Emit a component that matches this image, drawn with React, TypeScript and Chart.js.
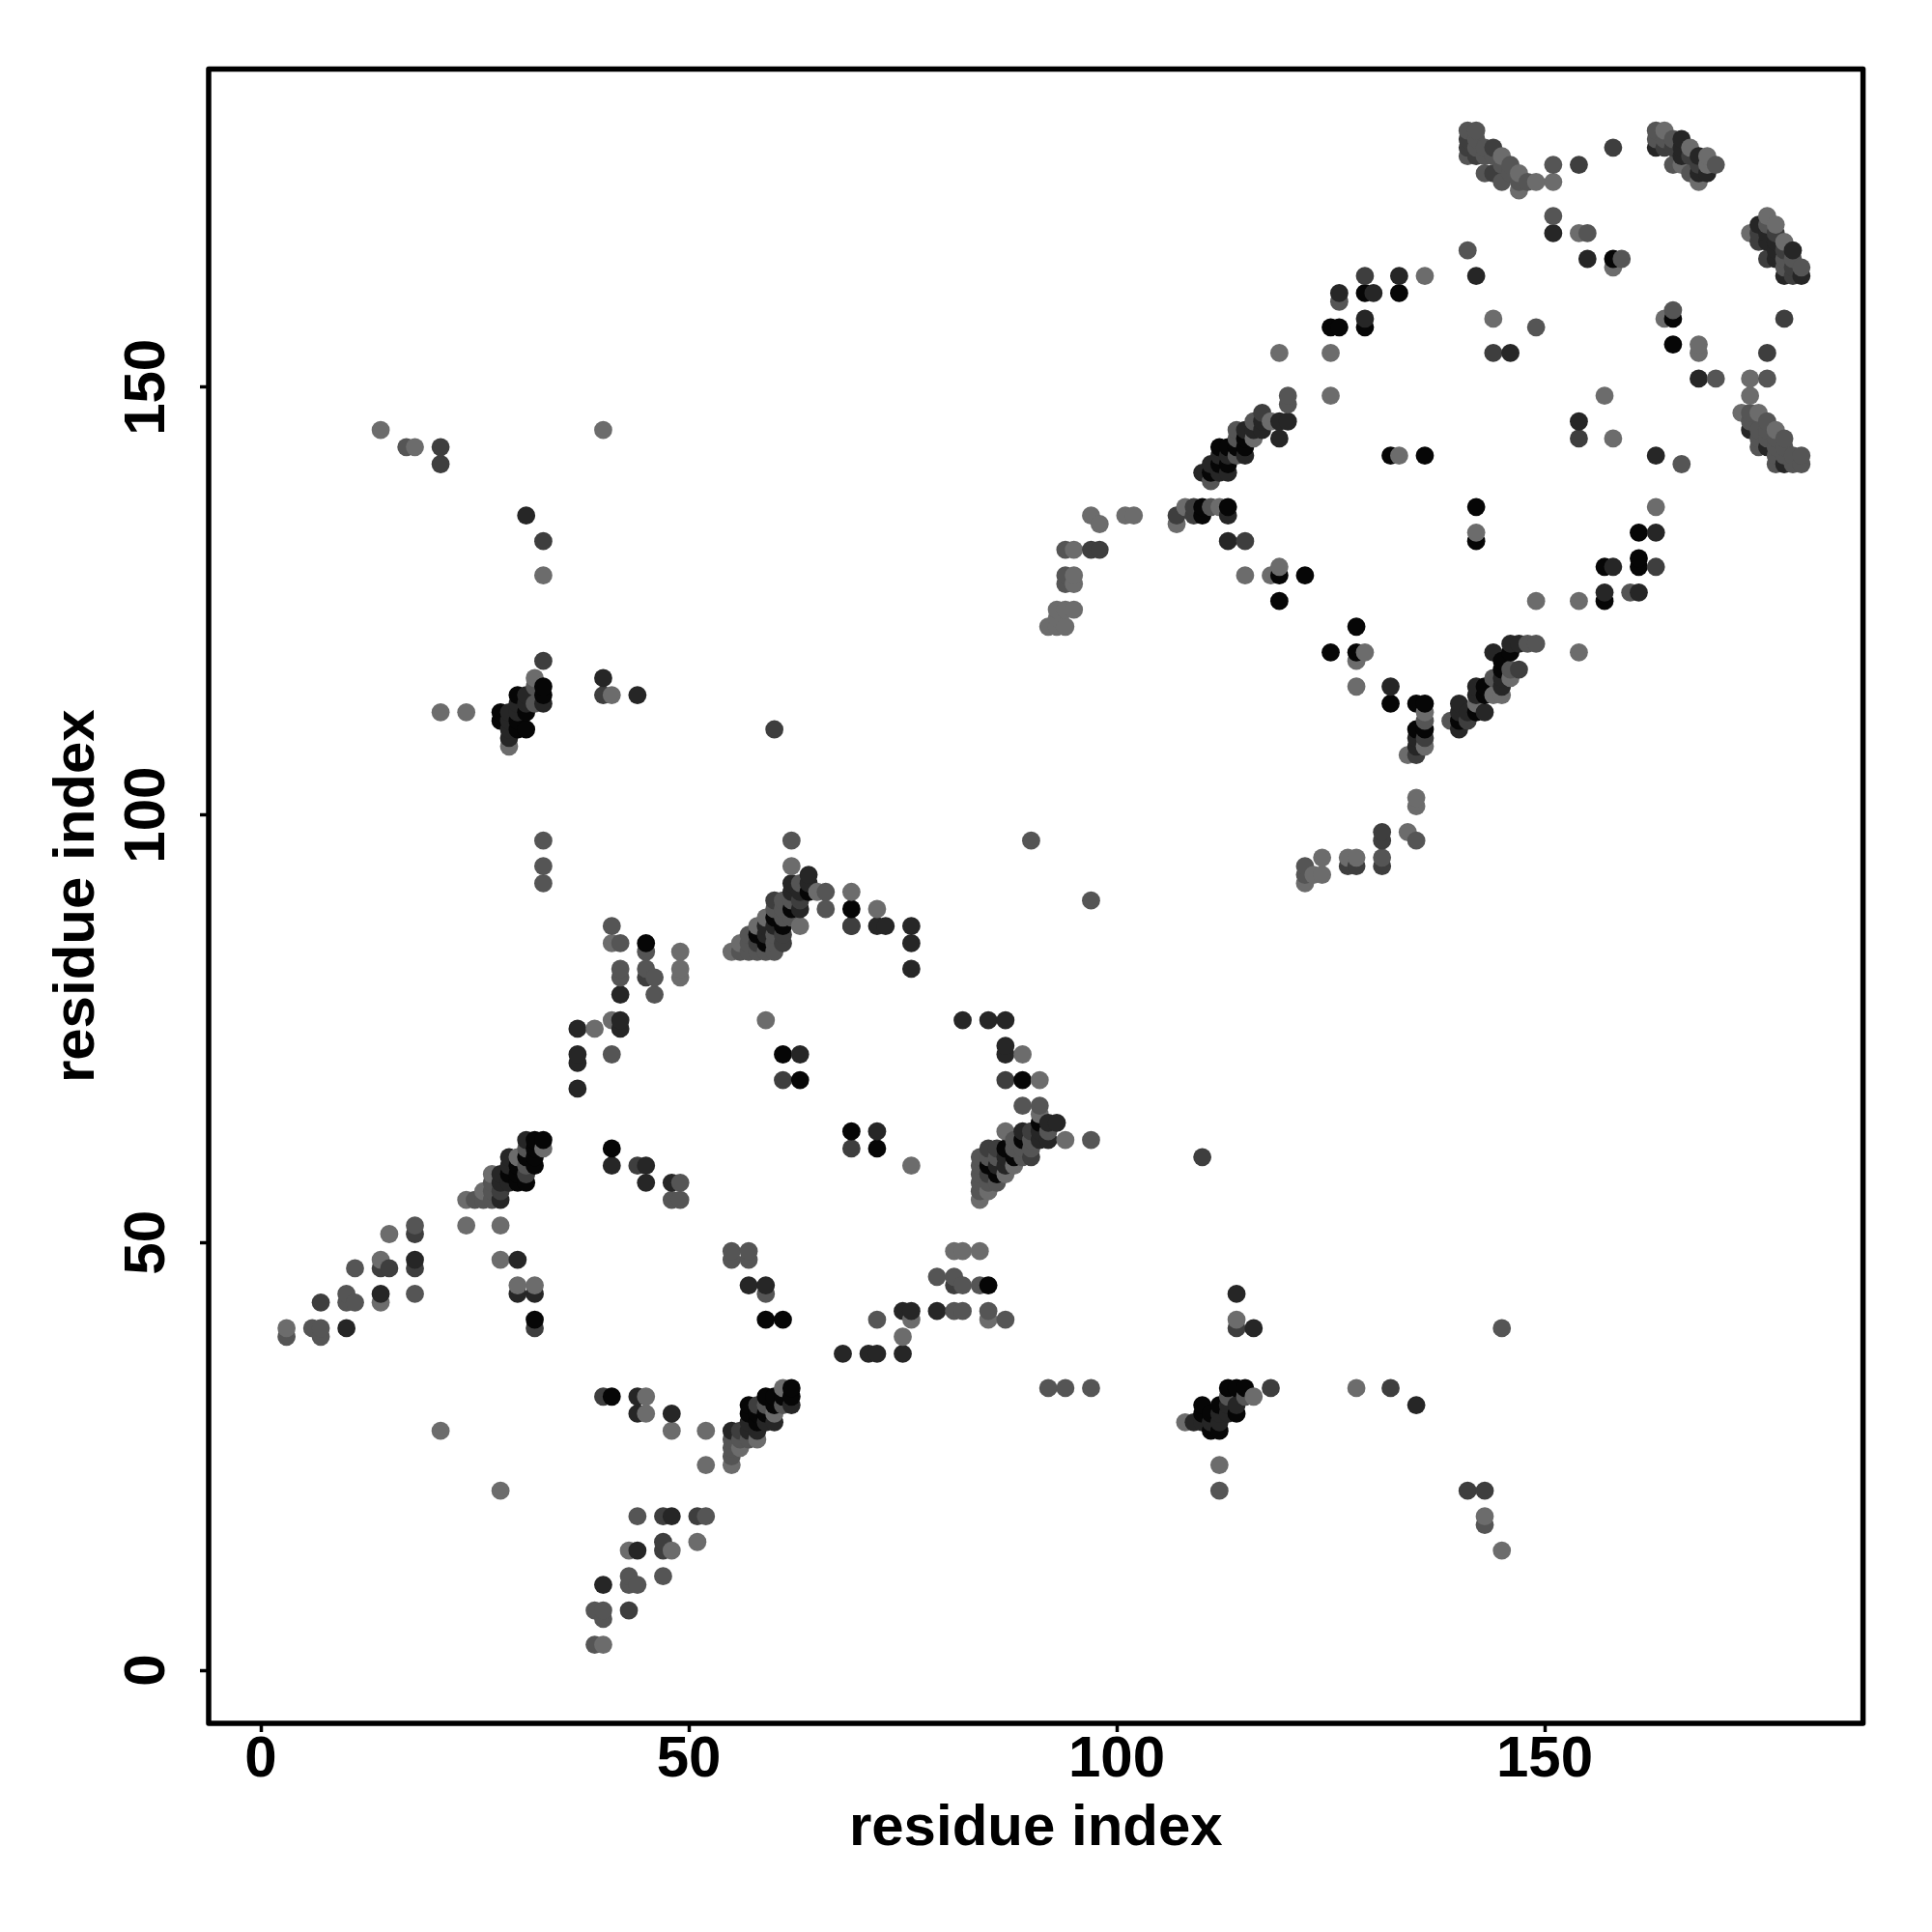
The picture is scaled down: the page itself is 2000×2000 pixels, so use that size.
import React, { useEffect, useRef } from "react";
import { Chart, registerables } from "chart.js";

Chart.register(...registerables);

const tickValues = [0, 50, 100, 150];
const axisTitle = "residue index";
const shades = ["#060606", "#262626", "#3e3e3e", "#555555", "#6c6c6c"];

const above0 = [[32,41],[30,57],[31,57],[29,58],[30,58],[30,59],[32,59],[31,60],[32,60],[32,61],[32,62],[33,62],[30,110],[31,110],[28,111],[30,111],[28,112],[31,112],[30,114],[33,114],[33,115],[45,85],[41,61],[59,85],[58,86],[61,87],[60,88],[62,89],[64,91],[69,89],[61,72],[63,69],[110,135],[110,136],[113,136],[119,128],[122,128],[119,125],[111,140],[112,141],[113,141],[112,143],[113,143],[115,143],[115,144],[114,143],[125,157],[126,157],[129,157],[129,161],[133,161],[158,165],[132,142],[136,142]];
const above1 = [[10,40],[14,44],[18,48],[30,48],[30,44],[32,44],[28,55],[28,57],[29,57],[28,58],[29,59],[29,60],[31,62],[31,135],[40,116],[44,114],[29,109],[29,110],[29,111],[29,112],[30,112],[30,113],[31,113],[33,113],[31,114],[37,68],[37,71],[37,72],[37,75],[42,75],[42,76],[42,79],[41,59],[45,57],[45,59],[48,57],[59,86],[59,87],[60,87],[63,89],[62,91],[63,91],[62,92],[64,92],[64,93],[72,87],[73,87],[76,82],[76,85],[76,87],[63,72],[113,135],[113,132],[110,140],[112,140],[113,140],[111,141],[112,142],[115,142],[113,142],[115,145],[116,145],[117,145],[117,146],[119,146],[120,146],[119,144],[129,158],[126,161],[130,161],[133,163],[142,163],[146,154],[151,168],[155,165],[163,178],[166,179],[166,178],[166,177],[168,177],[168,175],[169,175]];
const above2 = [[7,43],[14,47],[15,47],[18,47],[18,51],[32,40],[33,118],[33,132],[21,143],[21,141],[60,110],[40,114],[44,59],[45,81],[31,58],[28,56],[58,85],[61,85],[61,86],[60,90],[63,90],[69,87],[61,69],[97,131],[98,131],[107,135],[109,135],[109,136],[115,132],[117,147],[129,163],[144,154],[154,176],[158,178],[141,178],[142,177],[144,175],[141,179],[144,178],[164,178],[165,178],[167,177],[168,176]];
const above3 = [[3,39],[6,40],[7,39],[7,40],[10,43],[10,44],[11,43],[11,47],[18,44],[18,52],[25,55],[26,55],[27,55],[27,56],[27,57],[31,59],[31,61],[17,143],[33,92],[33,94],[33,97],[32,113],[32,115],[41,72],[42,81],[42,82],[42,85],[41,87],[45,82],[45,84],[46,79],[46,81],[48,55],[49,55],[49,57],[56,84],[57,84],[58,84],[59,84],[60,84],[57,85],[60,85],[57,86],[60,86],[61,88],[62,88],[60,89],[61,89],[61,90],[62,90],[63,92],[66,91],[62,97],[66,89],[90,97],[94,127],[94,128],[94,131],[111,136],[111,139],[114,142],[114,144],[114,145],[116,146],[120,148],[120,149],[126,160],[141,166],[149,157],[151,176],[151,170],[155,168],[159,165],[141,180],[142,180],[141,177],[142,179],[142,178],[143,178],[143,177],[143,175],[144,177],[146,176],[145,176],[145,174],[146,175],[147,174],[148,174],[163,180],[163,179],[164,179],[165,179],[165,176],[167,175],[170,176]];
const above4 = [[3,40],[14,43],[14,48],[15,51],[21,28],[24,52],[24,55],[28,48],[28,52],[30,45],[32,45],[26,56],[27,58],[30,60],[33,61],[14,145],[18,143],[33,128],[40,145],[21,112],[24,112],[41,114],[32,116],[29,108],[39,75],[41,76],[41,85],[49,81],[49,82],[49,84],[55,84],[56,85],[58,87],[59,88],[63,87],[65,91],[62,94],[69,91],[72,89],[59,76],[92,122],[93,122],[94,122],[93,123],[93,124],[94,124],[95,124],[95,127],[95,128],[95,131],[97,135],[98,134],[101,135],[102,135],[107,134],[108,136],[112,136],[115,128],[118,128],[119,129],[116,144],[118,146],[119,154],[125,154],[125,149],[133,142],[136,163],[144,158],[151,174],[149,174],[154,168],[158,164],[145,177],[147,175],[147,173],[164,180],[166,176],[167,178],[168,174],[169,177],[169,176]];

const below0 = [[41,32],[57,30],[57,31],[58,29],[58,30],[59,30],[59,32],[60,31],[60,32],[61,32],[62,32],[62,33],[110,30],[110,31],[111,28],[111,30],[112,28],[112,31],[114,30],[114,33],[115,33],[113,33],[85,45],[61,41],[59,41],[85,59],[86,58],[87,61],[88,60],[89,62],[91,64],[89,69],[72,61],[69,63],[135,110],[136,110],[136,113],[135,113],[128,119],[125,119],[128,122],[140,111],[142,112],[143,114],[143,115],[145,117],[145,118],[146,119],[157,125],[157,129],[161,129],[161,130],[161,133],[165,158],[165,155],[142,132],[142,136],[132,113]];
const below1 = [[40,10],[44,14],[48,18],[48,30],[44,30],[44,32],[55,28],[57,28],[57,29],[58,28],[59,29],[60,29],[62,31],[135,31],[116,40],[114,44],[109,29],[110,29],[111,29],[112,29],[112,30],[113,30],[113,31],[114,31],[68,37],[71,37],[72,37],[75,37],[75,42],[76,42],[79,42],[59,45],[57,45],[86,59],[87,59],[87,60],[89,63],[91,62],[91,63],[92,62],[92,64],[93,64],[87,72],[87,73],[82,76],[85,76],[87,76],[72,63],[140,110],[140,112],[140,113],[141,112],[142,114],[142,115],[143,112],[144,119],[145,115],[145,116],[146,120],[147,120],[135,109],[135,108],[157,126],[158,129],[161,126],[163,133],[163,142],[154,146],[168,151],[132,115],[175,169],[176,168],[176,167],[177,167],[179,166],[177,166],[177,165],[178,163],[180,163],[174,145],[176,143],[178,141]];
const below2 = [[43,7],[47,14],[47,15],[47,18],[51,18],[40,32],[118,33],[132,33],[143,21],[141,21],[110,60],[114,40],[81,45],[58,31],[56,28],[85,58],[85,61],[86,61],[90,60],[90,63],[87,69],[69,61],[69,87],[131,97],[131,98],[131,94],[127,94],[128,94],[135,107],[136,109],[147,117],[141,111],[163,129],[154,144],[176,154],[178,158],[175,168],[175,167],[177,168],[178,166],[176,165],[179,164],[179,163]];
const below3 = [[39,3],[40,6],[39,7],[40,7],[43,10],[44,10],[43,11],[47,11],[44,18],[52,18],[55,25],[55,26],[55,27],[56,27],[57,27],[59,31],[59,44],[61,31],[143,17],[145,40],[112,21],[92,33],[94,33],[97,33],[113,32],[115,32],[72,41],[81,42],[82,42],[85,42],[87,41],[82,45],[84,45],[79,46],[81,46],[55,48],[55,49],[57,49],[57,48],[84,56],[84,57],[84,58],[84,59],[84,60],[85,57],[85,60],[86,57],[86,60],[88,61],[88,62],[89,60],[89,61],[90,61],[90,62],[92,63],[91,66],[97,62],[89,66],[97,90],[122,93],[122,94],[131,95],[135,97],[136,111],[139,111],[144,116],[146,117],[148,120],[149,120],[160,126],[166,141],[176,151],[170,151],[165,159],[174,147],[175,143],[176,146],[178,144],[177,141],[179,141],[180,142],[180,141],[179,142],[177,142],[178,142],[174,146],[175,145],[176,145],[177,144],[175,144],[176,144],[177,143],[178,143],[176,169],[178,165],[179,165],[178,164],[180,164]];
const below4 = [[40,3],[43,14],[48,14],[51,15],[28,21],[52,24],[55,24],[48,28],[52,28],[45,30],[45,32],[56,26],[58,27],[60,30],[61,33],[145,14],[143,18],[128,33],[112,24],[114,41],[116,32],[108,29],[75,39],[76,41],[85,41],[81,49],[82,49],[84,49],[84,55],[85,56],[87,58],[88,59],[87,63],[91,65],[94,62],[91,69],[89,72],[76,59],[122,92],[123,93],[124,93],[124,95],[127,95],[128,95],[134,98],[135,101],[135,102],[134,107],[136,108],[136,112],[128,115],[128,118],[129,119],[142,113],[142,133],[144,114],[145,114],[146,116],[154,119],[154,125],[149,125],[163,136],[158,144],[174,151],[174,149],[168,154],[168,155],[164,158],[157,149],[173,147],[175,147],[177,145],[174,168],[176,170],[177,169],[178,167]];

const groups = [
  [...above0, ...below0],
  [...above1, ...below1],
  [...above2, ...below2],
  [...above3, ...below3],
  [...above4, ...below4],
];

const framePlugin = {
  id: "frame",
  afterDraw(chart: any) {
    const { ctx, chartArea: a } = chart;
    ctx.save();
    ctx.strokeStyle = "#000";
    ctx.lineWidth = 5.5;
    ctx.lineJoin = "round";
    ctx.strokeRect(a.left, a.top, a.right - a.left, a.bottom - a.top);
    ctx.restore();
  },
};

export default function App() {
  const ref = useRef<HTMLCanvasElement>(null);
  useEffect(() => {
    const points = groups
      .flatMap((g, s) => g.map(([x, y]) => ({ x, y, s })))
      .sort((p, q) => p.x - q.x || p.y - q.y);
    const font = { family: "'Liberation Sans', Arial, sans-serif", size: 60, weight: "bold" as const };
    const setTicks = (scale: any) => {
      scale.ticks = tickValues.map((value) => ({ value }));
    };
    const grid = {
      display: true,
      drawOnChartArea: false,
      drawTicks: true,
      tickLength: 9,
      tickWidth: 3.5,
      tickColor: "#000",
    };
    const chart = new Chart(ref.current!, {
      type: "scatter",
      data: {
        datasets: [
          {
            data: points.map((p) => ({ x: p.x, y: p.y })),
            pointRadius: 9.4,
            pointHoverRadius: 9.4,
            pointBorderWidth: 0,
            pointBackgroundColor: points.map((p) => shades[p.s]),
          },
        ],
      },
      options: {
        animation: false,
        responsive: false,
        devicePixelRatio: 1,
        layout: { padding: { top: 71.4, right: 71.4, left: 0, bottom: 0 } },
        plugins: { legend: { display: false }, tooltip: { enabled: false } },
        scales: {
          x: {
            type: "linear",
            min: -6.1,
            max: 187.2,
            afterBuildTicks: setTicks,
            afterFit: (s: any) => {
              s.height = 216;
            },
            grid,
            border: { display: false },
            ticks: {
              autoSkip: false,
              color: "#000",
              font,
              padding: -7,
              maxRotation: 0,
              minRotation: 0,
              callback: (v: any) => String(v),
            },
            title: { display: true, text: axisTitle, color: "#000", font, padding: { top: 0, bottom: 71 } },
          },
          y: {
            type: "linear",
            min: -6.2,
            max: 187.2,
            afterBuildTicks: setTicks,
            afterFit: (s: any) => {
              s.width = 216;
            },
            grid,
            border: { display: false },
            ticks: {
              autoSkip: false,
              color: "#000",
              font,
              padding: 3.5,
              minRotation: 90,
              maxRotation: 90,
              crossAlign: "center",
              callback: (v: any) => String(v),
            },
            title: { display: true, text: axisTitle, color: "#000", font, padding: { top: 44, bottom: 0 } },
          },
        },
      },
      plugins: [framePlugin],
    } as any);
    return () => chart.destroy();
  }, []);
  return (
    <canvas
      ref={ref}
      width={2000}
      height={2000}
      style={{ position: "absolute", left: 0, top: 0, width: 2000, height: 2000, display: "block", background: "#fff" }}
    />
  );
}
